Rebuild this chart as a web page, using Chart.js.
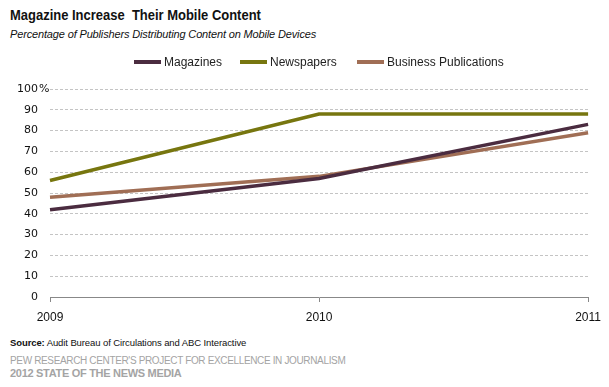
<!DOCTYPE html>
<html>
<head>
<meta charset="utf-8">
<script src="https://cdn.jsdelivr.net/npm/chart.js@4"></script>
<style>
  html, body { margin: 0; padding: 0; background: #fff; }
  #wrap { position: relative; width: 609px; height: 387px; overflow: hidden; font-family: 'Liberation Sans', Arial, sans-serif; }
  .txt { position: absolute; left: 10px; white-space: nowrap; transform-origin: left top; }
  #title { top: 6px; font-size: 15px; font-weight: bold; color: #111; transform: scaleX(0.865); }
  #subtitle { top: 28px; font-size: 11px; font-style: italic; color: #111; letter-spacing: -0.15px; }
  #source { top: 337px; font-size: 9.5px; color: #111; letter-spacing: -0.1px; }
  #pew { top: 355px; font-size: 10px; color: #a4a4a4; letter-spacing: -0.35px; }
  #som { top: 367px; font-size: 11px; font-weight: bold; color: #a4a4a4; letter-spacing: -0.3px; }
  #chartBox { position: absolute; left: 0; top: 50px; width: 609px; height: 275px; }
</style>
</head>
<body>
<div id="wrap">
  <div id="title" class="txt">Magazine Increase&nbsp; Their Mobile Content</div>
  <div id="subtitle" class="txt">Percentage of Publishers Distributing Content on Mobile Devices</div>
  <div id="chartBox"><canvas id="chart"></canvas></div>
  <div id="source" class="txt"><b>Source:</b> Audit Bureau of Circulations and ABC Interactive</div>
  <div id="pew" class="txt">PEW RESEARCH CENTER'S PROJECT FOR EXCELLENCE IN JOURNALISM</div>
  <div id="som" class="txt">2012 STATE OF THE NEWS MEDIA</div>
</div>
<script>
// ── DATA ──────────────────────────────────────────────────────────────────
const YEARS        = ['2009', '2010', '2011'];
const MAGAZINES    = [42, 57, 83];
const NEWSPAPERS   = [56, 88, 88];
const BUSINESS     = [48, 58, 79];
const SERIES_NAMES = ['Magazines', 'Newspapers', 'Business Publications'];
const COLORS       = ['#4B2C40', '#77760F', '#A06E55'];

// legend drawn as short thick lines, centered above the plot
const legendPlugin = {
  id: 'lineLegend',
  afterDraw(chart) {
    const ctx = chart.ctx;
    const starts = [134, 240, 357];
    ctx.save();
    ctx.font = '12px "Liberation Sans", Arial, sans-serif';
    ctx.textBaseline = 'middle';
    chart.data.datasets.forEach((ds, i) => {
      const x = starts[i], y = 12;
      ctx.fillStyle = ds.borderColor;
      ctx.fillRect(x, y - 2, 27, 4);
      ctx.fillStyle = '#222';
      ctx.fillText(ds.label, x + 30, y + 1);
    });
    // percent sign next to the top tick label
    const ys = chart.scales.y;
    ctx.font = '11px "DejaVu Sans", sans-serif';
    ctx.fillStyle = '#111';
    ctx.fillText('%', 39, ys.getPixelForValue(100));
    ctx.restore();
  }
};

new Chart(document.getElementById('chart'), {
  type: 'line',
  data: {
    labels: YEARS,
    datasets: [MAGAZINES, NEWSPAPERS, BUSINESS].map((d, i) => ({
      label: SERIES_NAMES[i],
      data: d,
      borderColor: COLORS[i],
      backgroundColor: COLORS[i],
      borderWidth: 3.5,
      pointRadius: 0,
      tension: 0,
      order: i === 0 ? 2 : (i === 1 ? 1 : 3)
    }))
  },
  options: {
    responsive: true, maintainAspectRatio: false,
    animation: false,
    layout: { padding: { top: 39, right: 16, left: 0, bottom: 0 } },
    plugins: { legend: { display: false }, tooltip: { enabled: false } },
    scales: {
      x: {
        offset: false,
        grid: { drawOnChartArea: false, drawTicks: true, tickLength: 5, color: '#888' },
        border: { display: true, color: '#888', width: 1 },
        ticks: { color: '#111', font: { family: '"Liberation Sans", Arial', size: 12 }, padding: 8, maxRotation: 0 },
        afterFit: s => { s.height = 28; }
      },
      y: {
        min: 0, max: 100,
        grid: { color: '#c4c4c4', drawTicks: false, lineWidth: 1 },
        border: { display: true, color: 'rgba(0,0,0,0)', width: 0, dash: [3, 2] },
        ticks: {
          stepSize: 10, padding: 12, color: '#111',
          font: { family: '"DejaVu Sans", sans-serif', size: 11 },
          callback: v => v
        },
        afterFit: s => { s.width = 50; }
      }
    }
  },
  plugins: [legendPlugin]
});
</script>
</body>
</html>
